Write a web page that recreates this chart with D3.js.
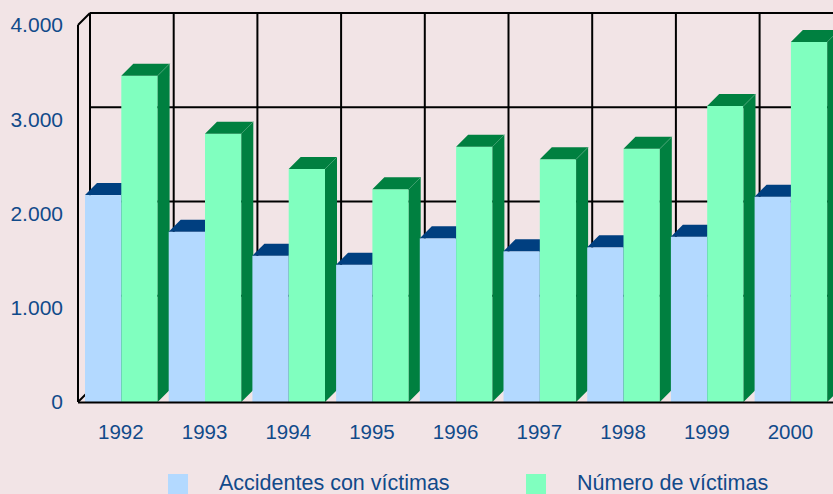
<!DOCTYPE html>
<html>
<head>
<meta charset="utf-8">
<script src="https://cdn.jsdelivr.net/npm/d3@7"></script>
<style>
  body { margin: 0; background: #f2e4e6; }
  svg { display: block; }
  text { font-family: "Liberation Sans", Arial, sans-serif; fill: #114a8a; }
</style>
</head>
<body>
<svg id="chart" width="833" height="494"></svg>
<script>
// data
var years = ['1992','1993','1994','1995','1996','1997','1998','1999','2000'];
var accidentes = [2195, 1807, 1552, 1457, 1737, 1599, 1641, 1754, 2178];
var victimas = [3462, 2847, 2472, 2257, 2709, 2575, 2686, 3141, 3820];
var seriesNames = ['Accidentes con víctimas', 'Número de víctimas'];
var yTicks = [0, 1000, 2000, 3000, 4000];

var width = 833, height = 494;
var depth = 12; // 3d offset, right and up

var colors = [
  {front: '#b3d9ff', top: '#003f80', side: '#003f80'},
  {front: '#80ffbf', top: '#008040', side: '#008040'}
];

var svg = d3.select('#chart');

var x = d3.scaleBand()
  .domain(years)
  .range([78, 78 + 83.7 * years.length]);

// two bars in each category
var xs = d3.scaleBand()
  .domain(d3.range(seriesNames.length))
  .range([7, 7 + 72.6]);

var y = d3.scaleLinear()
  .domain([0, 4000])
  .range([402, 25]);

var es = d3.formatLocale({decimal: ',', thousands: '.', grouping: [3], currency: ['', '€']});
var fmt = es.format(',d');

// back wall grid
var grid = svg.append('g').attr('class', 'grid');
var backLeft = x.range()[0] + depth;
var backRight = x.range()[1] + depth;

yTicks.forEach(function(t){
  if(t == 0) return;
  grid.append('line')
    .attr('x1', backLeft).attr('x2', backRight)
    .attr('y1', y(t) - depth).attr('y2', y(t) - depth)
    .attr('stroke', '#000').attr('stroke-width', 2);
});

years.forEach(function(yr){
  grid.append('line')
    .attr('x1', x(yr) + depth).attr('x2', x(yr) + depth)
    .attr('y1', y(4000) - depth).attr('y2', y(0) - depth)
    .attr('stroke', '#000').attr('stroke-width', 2);
});

// left side wall edges
grid.append('line')
  .attr('x1', x.range()[0]).attr('x2', x.range()[0])
  .attr('y1', y(4000)).attr('y2', y(0))
  .attr('stroke', '#000').attr('stroke-width', 2);
grid.append('line')
  .attr('x1', x.range()[0]).attr('x2', backLeft)
  .attr('y1', y(4000)).attr('y2', y(4000) - depth)
  .attr('stroke', '#000').attr('stroke-width', 2);
grid.append('line')
  .attr('x1', x.range()[0]).attr('x2', backLeft)
  .attr('y1', y(0)).attr('y2', y(0) - depth)
  .attr('stroke', '#000').attr('stroke-width', 2);

// bars
var bars = svg.append('g').attr('class', 'bars');
var allSeries = [accidentes, victimas];

for(var i=0; i<years.length; i++) {
  for(var s=0; s<allSeries.length; s++) {
    var x0 = x(years[i]) + xs(s);
    var x1 = x0 + xs.bandwidth();
    var yt = y(allSeries[s][i]);
    var yb = y(0);
    var c = colors[s];

    bars.append('rect')
      .attr('x', x0).attr('y', yt)
      .attr('width', x1 - x0).attr('height', yb - yt)
      .attr('fill', c.front);

    // top
    bars.append('polygon')
      .attr('points', [[x0, yt], [x0 + depth, yt - depth], [x1 + depth, yt - depth], [x1, yt]].join(' '))
      .attr('fill', c.top);

    // side
    bars.append('polygon')
      .attr('points', [[x1, yt], [x1 + depth, yt - depth], [x1 + depth, yb - depth], [x1, yb]].join(' '))
      .attr('fill', c.side);

    // light edge on top corner
    bars.append('line')
      .attr('x1', x1).attr('y1', yt)
      .attr('x2', x1 + depth).attr('y2', yt - depth)
      .attr('stroke', s == 0 ? '#4f7fb0' : '#3fa070').attr('stroke-width', 0.8);
  }
}

// floor line
svg.append('line')
  .attr('x1', x.range()[0]).attr('x2', width)
  .attr('y1', y(0) + 0.5).attr('y2', y(0) + 0.5)
  .attr('stroke', '#000').attr('stroke-width', 2);

// y labels
svg.append('g').selectAll('text')
  .data(yTicks)
  .enter().append('text')
    .attr('x', 63)
    .attr('y', function(d){ return y(d); })
    .attr('dy', '0.35em')
    .attr('text-anchor', 'end')
    .style('font-size', '21px')
    .text(function(d){ return fmt(d); });

// x labels
svg.append('g').selectAll('text')
  .data(years)
  .enter().append('text')
    .attr('x', function(d){ return x(d) + x.bandwidth() / 2 + 1; })
    .attr('y', 439)
    .attr('text-anchor', 'middle')
    .style('font-size', '20.5px')
    .text(function(d){ return d; });

// legend
var legendX = [168, 526];
var legend = svg.append('g').attr('class', 'legend');
seriesNames.forEach(function(name, s){
  legend.append('rect')
    .attr('x', legendX[s]).attr('y', 474)
    .attr('width', 20).attr('height', 20)
    .attr('fill', colors[s].front);
  legend.append('text')
    .attr('x', legendX[s] + 51)
    .attr('y', 490)
    .style('font-size', '21.5px')
    .text(name);
});
</script>
</body>
</html>
